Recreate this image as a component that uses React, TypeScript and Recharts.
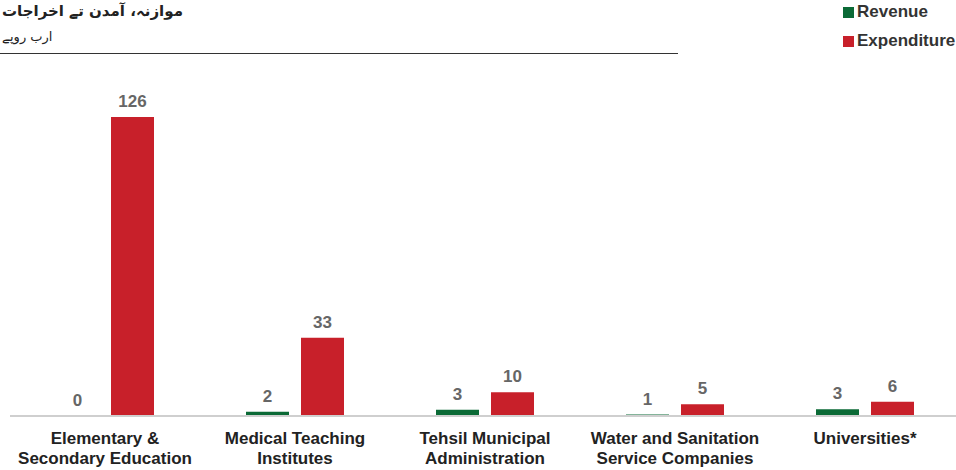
import React from "react"
import { BarChart, Bar, XAxis, YAxis, LabelList } from "recharts"

const categories = [
  "Elementary &\nSecondary Education",
  "Medical Teaching\nInstitutes",
  "Tehsil Municipal\nAdministration",
  "Water and Sanitation\nService Companies",
  "Universities*",
]
const revenue = [0.1, 1.8, 2.6, 0.6, 2.8]
const expenditure = [126, 33, 10, 5, 6]

const data = categories.map((name, i) => ({
  name,
  revenue: revenue[i],
  expenditure: expenditure[i],
}))

const GREEN = "#0b6a36"
const RED = "#c8202a"
const SANS = "'Liberation Sans', Arial, sans-serif"

function CategoryTick(props: any) {
  const { x, y, payload } = props
  const lines = String(payload.value).split("\n")
  return (
    <text x={x} y={y} textAnchor="middle" fontFamily={SANS} fontWeight="bold" fontSize={17} fill="#222">
      {lines.map((l, i) => (
        <tspan key={i} x={x} dy={i === 0 ? 20 : 20}>
          {l}
        </tspan>
      ))}
    </text>
  )
}

const fmt = (v: any) => Math.round(Number(v)).toString()

export default function App() {
  return (
    <div style={{ position: "absolute", left: 0, top: 0, width: 956, height: 470, overflow: "hidden", background: "#fff" }}>
      <div
        dir="rtl"
        style={{ position: "absolute", left: 2, top: 0, fontFamily: "'DejaVu Sans', sans-serif", fontWeight: "bold", fontSize: 15, color: "#222", lineHeight: "22px" }}
      >
        موازنہ، آمدن تے اخراجات
      </div>
      <div
        dir="rtl"
        style={{ position: "absolute", left: 2, top: 27, fontFamily: "'DejaVu Sans', sans-serif", fontSize: 13, color: "#222", lineHeight: "20px" }}
      >
        ارب روپے
      </div>
      <div style={{ position: "absolute", left: 0, top: 53, width: 678, height: 1, background: "#333" }} />

      {[
        { label: "Revenue", color: GREEN, top: 1 },
        { label: "Expenditure", color: RED, top: 30 },
      ].map((l) => (
        <div key={l.label} style={{ position: "absolute", left: 843, top: l.top, height: 22, display: "flex", alignItems: "center", fontFamily: SANS, fontWeight: "bold", fontSize: 17, color: "#333" }}>
          <span style={{ display: "inline-block", width: 11, height: 11, background: l.color, marginRight: 3 }} />
          {l.label}
        </div>
      ))}

      <div style={{ position: "absolute", left: 0, top: 0 }}>
        <BarChart
          width={960}
          height={470}
          data={data}
          margin={{ top: 117, right: 0, left: 10, bottom: 0 }}
          barCategoryGap="24.5%"
          barGap={12}
        >
          <XAxis
            dataKey="name"
            interval={0}
            height={54}
            tickLine={false}
            axisLine={{ stroke: "#cfcfcf", strokeWidth: 2 }}
            tick={<CategoryTick />}
          />
          <YAxis hide domain={[0, 126]} />
          <Bar dataKey="revenue" fill={GREEN} barSize={43} isAnimationActive={false}>
            <LabelList dataKey="revenue" position="top" offset={10} formatter={fmt} fill="#666" fontFamily={SANS} fontWeight="bold" fontSize={17} />
          </Bar>
          <Bar dataKey="expenditure" fill={RED} barSize={43} isAnimationActive={false}>
            <LabelList dataKey="expenditure" position="top" offset={10} formatter={fmt} fill="#666" fontFamily={SANS} fontWeight="bold" fontSize={17} />
          </Bar>
        </BarChart>
      </div>
    </div>
  )
}
